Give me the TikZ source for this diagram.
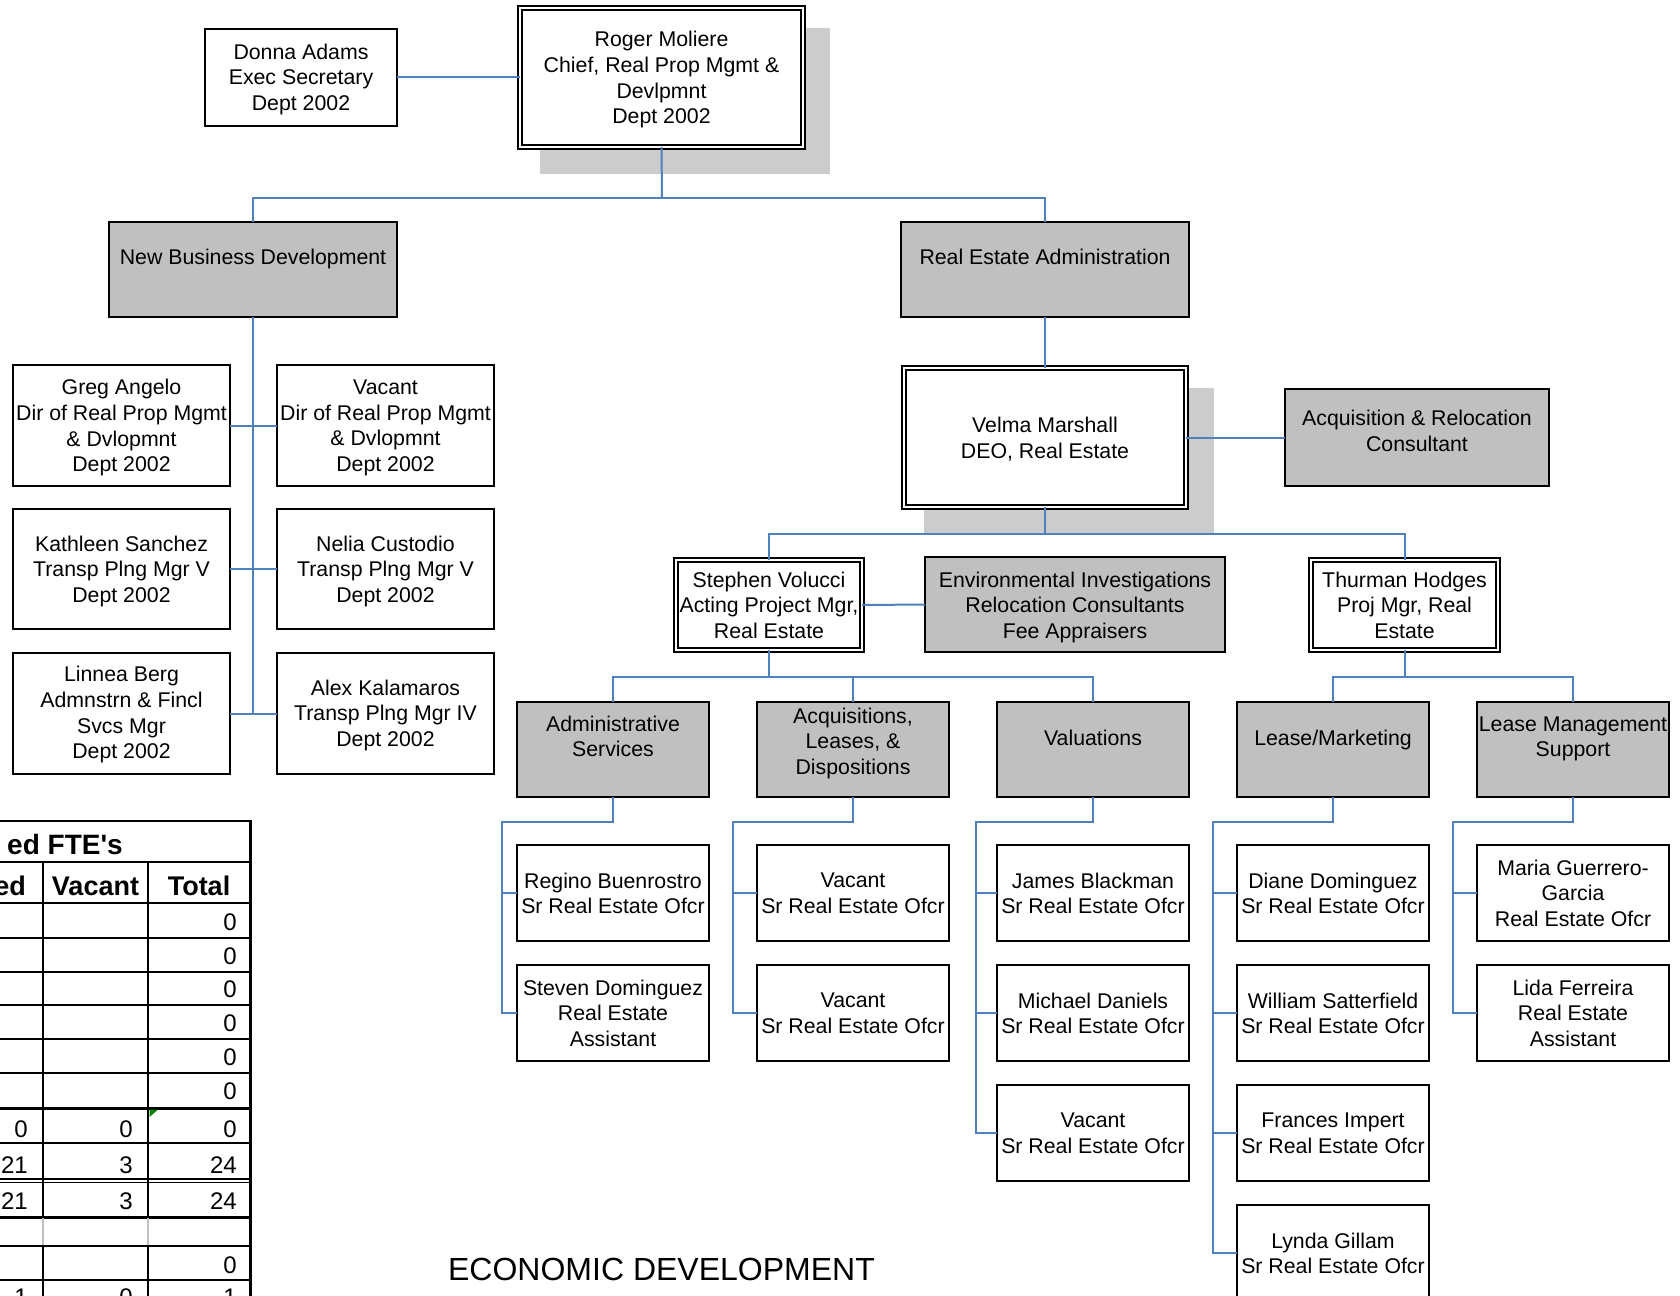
\documentclass[tikz,border=0pt]{standalone}
\usepackage{fontspec}
\setmainfont{Liberation Sans}
\definecolor{connblue}{RGB}{79,129,189}
\definecolor{boxgrey}{RGB}{192,192,192}
\definecolor{shadowgrey}{RGB}{204,204,204}
\newcommand\bxfont{\fontsize{21.3}{25.7}\selectfont}
\newcommand\numfont{\fontsize{24}{28}\selectfont}
\newcommand\hdfont{\fontsize{27}{30}\selectfont\bfseries}
\tikzset{
  wbox/.style={draw=black, line width=1.8pt, fill=white, inner sep=0pt, outer sep=0pt},
  gbox/.style={wbox, fill=boxgrey},
  dblbox/.style={draw=black, line width=1.8pt, double=white, double distance=2.2pt, fill=white, inner sep=0pt, outer sep=0pt},
  txt/.style={font=\bxfont, align=center, inner sep=0pt, yshift=-3pt, execute at begin node=\strut, execute at end node=\strut},
  conn/.style={draw=connblue, line width=2pt},
  num/.style={font=\numfont, inner sep=0pt, anchor=base east},
  hd/.style={font=\hdfont, inner sep=0pt, anchor=base},
}
% name, style, x1, y1, x2, y2, text y, text
\newcommand\obox[8]{%
  \node[#2, minimum width={(#5)-(#3)}, minimum height={(#6)-(#4)}] (#1) at ({((#3)+(#5))/2},{((#4)+(#6))/2}) {};
  \node[txt] (#1t) at ({((#3)+(#5))/2},#7) {#8};}
\newcommand\dbox[8]{%
  \node[#2, minimum width={(#5)-(#3)-6}, minimum height={(#6)-(#4)-6}] (#1) at ({((#3)+(#5))/2},{((#4)+(#6))/2}) {};
  \node[txt] (#1t) at ({((#3)+(#5))/2},#7) {#8};}
\begin{document}
\begin{tikzpicture}[x=1pt,y=-1pt]
\useasboundingbox (0,0) rectangle (1680,1295);
\clip (0,0) rectangle (1680,1295);
\fill[white] (0,0) rectangle (1680,1295);

% shadows
\fill[shadowgrey] (540,28) rectangle (830,174);
\fill[shadowgrey] (924,388) rectangle (1214,533);

% top
\obox{donna}{wbox}{205}{29}{397}{126}{78}{Donna Adams\\Exec Secretary\\Dept 2002}
\dbox{roger}{dblbox}{517}{5}{806}{150}{78.5}{Roger Moliere\\Chief, Real Prop Mgmt \&\\Devlpmnt\\Dept 2002}
\obox{nbd}{gbox}{109}{222}{397}{317}{256}{New Business Development}
\obox{rea}{gbox}{901}{222}{1189}{317}{256}{Real Estate Administration}

% left column
\obox{greg}{wbox}{13}{365}{230}{486}{426.5}{Greg Angelo\\Dir of Real Prop Mgmt\\\& Dvlopmnt\\Dept 2002}
\obox{vaca}{wbox}{277}{365}{494}{486}{426.5}{Vacant\\Dir of Real Prop Mgmt\\\& Dvlopmnt\\Dept 2002}
\obox{kath}{wbox}{13}{509}{230}{629}{570}{Kathleen Sanchez\\Transp Plng Mgr V\\Dept 2002}
\obox{nelia}{wbox}{277}{509}{494}{629}{570}{Nelia Custodio\\Transp Plng Mgr V\\Dept 2002}
\obox{linnea}{wbox}{13}{653}{230}{774}{713.5}{Linnea Berg\\Admnstrn \& Fincl\\Svcs Mgr\\Dept 2002}
\obox{alex}{wbox}{277}{653}{494}{774}{714}{Alex Kalamaros\\Transp Plng Mgr IV\\Dept 2002}

% real estate
\dbox{velma}{dblbox}{901}{365}{1189}{510}{438.5}{Velma Marshall\\DEO, Real Estate}
\obox{acqrel}{gbox}{1285}{389}{1549}{486}{431.5}{Acquisition \& Relocation\\Consultant}
\dbox{stephen}{dblbox}{673}{557}{865}{653}{606}{Stephen Volucci\\Acting Project Mgr,\\Real Estate}
\obox{env}{gbox}{925}{557}{1225}{652}{606}{Environmental Investigations\\Relocation Consultants\\Fee Appraisers}
\dbox{thurman}{dblbox}{1308}{557}{1501}{653}{606}{Thurman Hodges\\Proj Mgr, Real\\Estate}

% groups
\obox{admin}{gbox}{517}{702}{709}{797}{737}{Administrative\\Services}
\obox{acq}{gbox}{757}{702}{949}{797}{742}{Acquisitions,\\Leases, \&\\Dispositions}
\obox{val}{gbox}{997}{702}{1189}{797}{737.5}{Valuations}
\obox{lm}{gbox}{1237}{702}{1429}{797}{737}{Lease/Marketing}
\obox{lms}{gbox}{1477}{702}{1669}{797}{737.5}{Lease Management\\Support}

% children
\obox{regino}{wbox}{517}{845}{709}{941}{894}{Regino Buenrostro\\Sr Real Estate Ofcr}
\obox{steven}{wbox}{517}{965}{709}{1061}{1014}{Steven Dominguez\\Real Estate\\Assistant}
\obox{vacb}{wbox}{757}{845}{949}{941}{894}{Vacant\\Sr Real Estate Ofcr}
\obox{vacc}{wbox}{757}{965}{949}{1061}{1014}{Vacant\\Sr Real Estate Ofcr}
\obox{james}{wbox}{997}{845}{1189}{941}{894}{James Blackman\\Sr Real Estate Ofcr}
\obox{michael}{wbox}{997}{965}{1189}{1061}{1014}{Michael Daniels\\Sr Real Estate Ofcr}
\obox{vacd}{wbox}{997}{1085}{1189}{1181}{1134}{Vacant\\Sr Real Estate Ofcr}
\obox{diane}{wbox}{1237}{845}{1429}{941}{894}{Diane Dominguez\\Sr Real Estate Ofcr}
\obox{william}{wbox}{1237}{965}{1429}{1061}{1014}{William Satterfield\\Sr Real Estate Ofcr}
\obox{frances}{wbox}{1237}{1085}{1429}{1181}{1134}{Frances Impert\\Sr Real Estate Ofcr}
\obox{lynda}{wbox}{1237}{1205}{1429}{1301}{1254}{Lynda Gillam\\Sr Real Estate Ofcr}
\obox{maria}{wbox}{1477}{845}{1669}{941}{894}{Maria Guerrero-\\Garcia\\Real Estate Ofcr}
\obox{lida}{wbox}{1477}{965}{1669}{1061}{1014}{Lida Ferreira\\Real Estate\\Assistant}

% connectors
\coordinate (j1) at (662,198);
\draw[conn] (donna.east) -- (roger.west);
\draw[conn] (roger.south) -- (j1);
\draw[conn] (nbd.north) |- (j1) -| (rea.north);
\coordinate (j2) at (nbd.south |- linnea.east);
\draw[conn] (nbd.south) -- (j2);
\draw[conn] (greg.east) -- (vaca.west);
\draw[conn] (kath.east) -- (nelia.west);
\draw[conn] (linnea.east) -- (alex.west);
\draw[conn] (rea.south) -- (velma.north);
\draw[conn] (velma.east) -- (acqrel.west);
\coordinate (j3) at (1045,534);
\draw[conn] (velma.south) -- (j3);
\draw[conn] (stephen.north) |- (j3) -| (thurman.north);
\draw[conn] (stephen.east) -- (env.west);
\coordinate (j4) at (769,677);
\draw[conn] (stephen.south) -- (j4);
\draw[conn] (admin.north) |- (j4) -| (val.north);
\draw[conn] (acq.north) -- (acq.north |- j4);
\coordinate (j5) at (1404.5,677);
\draw[conn] (thurman.south) -- (j5);
\draw[conn] (lm.north) |- (j5) -| (lms.north);
\coordinate (ka) at (502,822);
\draw[conn] (admin.south) |- (ka) |- (steven.west);
\draw[conn] (ka) |- (regino.west);
\coordinate (kb) at (733,822);
\draw[conn] (acq.south) |- (kb) |- (vacc.west);
\draw[conn] (kb) |- (vacb.west);
\coordinate (kc) at (976,822);
\draw[conn] (val.south) |- (kc) |- (vacd.west);
\draw[conn] (kc) |- (james.west);
\draw[conn] (kc) |- (michael.west);
\coordinate (kd) at (1213,822);
\draw[conn] (lm.south) |- (kd) |- (lynda.west);
\draw[conn] (kd) |- (diane.west);
\draw[conn] (kd) |- (william.west);
\draw[conn] (kd) |- (frances.west);
\coordinate (ke) at (1453,822);
\draw[conn] (lms.south) |- (ke) |- (lida.west);
\draw[conn] (ke) |- (maria.west);

% table
\draw[line width=2.5pt] (-5,821) -- (250,821);
\foreach \y/\w in {862/2, 903/2.5, 938/2, 972/2, 1005/2, 1039/2, 1073/2, 1108/3, 1143/2.5, 1179/1.2, 1182.5/1.2, 1217/3, 1246/2.5, 1280/2.5}
  \draw[line width=\w pt] (-5,\y) -- (250,\y);
\draw[boxgrey, line width=1.2pt] (43,1218) -- (43,1245) (148,1218) -- (148,1245);
\draw[line width=2pt] (43,862) -- (43,1217) (43,1246) -- (43,1300);
\draw[line width=2pt] (148,862) -- (148,1217) (148,1246) -- (148,1300);
\draw[line width=3pt] (250,820) -- (250,1300);
\fill[green!50!black] (149.5,1109.5) -- (158,1109.5) -- (149.5,1117) -- cycle;

\node[font=\fontsize{28}{32}\selectfont\bfseries, inner sep=0pt, anchor=base east] (ttl) at (123,854) {ed FTE\textquotesingle s};
\node[hd, anchor=base east] (h1) at (26,895) {ed};
\node[hd] (h2) at (95.5,895) {Vacant};
\node[hd] (h3) at (199,895) {Total};
\foreach \y [count=\i] in {930.5, 964, 997.5, 1031, 1065, 1099}
  \node[num] (z\i) at (237,\y) {0};
\node[num] (r7a) at (28,1137) {0};
\node[num] (r7b) at (133,1137) {0};
\node[num] (r7c) at (237,1137) {0};
\node[num] (r8a) at (28,1173) {21};
\node[num] (r8b) at (133,1173) {3};
\node[num] (r8c) at (237,1173) {24};
\node[num] (r9a) at (28,1209.5) {21};
\node[num] (r9b) at (133,1209.5) {3};
\node[num] (r9c) at (237,1209.5) {24};
\node[num] (r11) at (237,1273) {0};
\node[num] (r12a) at (28,1305) {1};
\node[num] (r12b) at (133,1305) {0};
\node[num] (r12c) at (237,1305) {1};

% title
\node[font=\fontsize{32}{36}\selectfont, inner sep=0pt, anchor=base] (title) at (661.5,1280) {ECONOMIC DEVELOPMENT};
\end{tikzpicture}
\end{document}
